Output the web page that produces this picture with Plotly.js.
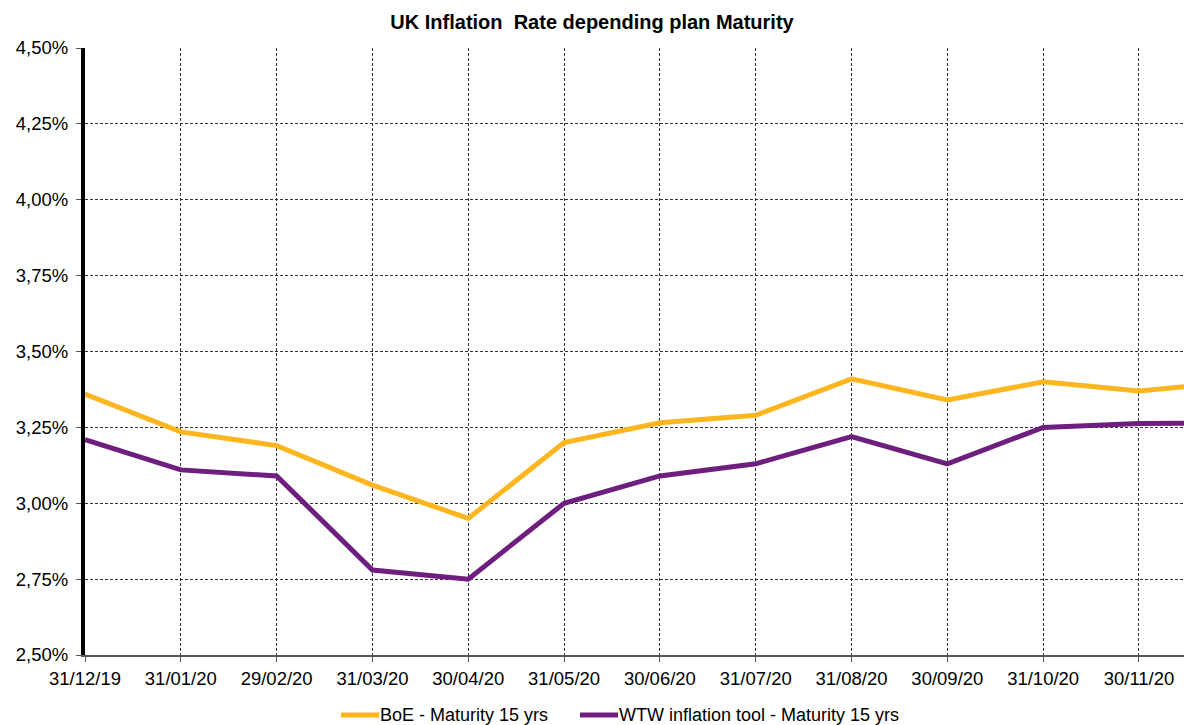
<!DOCTYPE html>
<html>
<head>
<meta charset="utf-8">
<script src="https://cdn.plot.ly/plotly-3.0.1.min.js"></script>
<style>
  html, body { margin: 0; padding: 0; background: #ffffff; }
  #chart { width: 1184px; height: 725px; }
</style>
</head>
<body>
<div id="chart"></div>
<script>
// Month-end observation dates
const dates = ["31/12/19", "31/01/20", "29/02/20", "31/03/20", "30/04/20", "31/05/20",
               "30/06/20", "31/07/20", "31/08/20", "30/09/20", "31/10/20", "30/11/20", "31/12/20"];

// Implied inflation (%), 15-year maturity
const boeValues = [3.36, 3.235, 3.19, 3.06, 2.95, 3.20, 3.265, 3.29, 3.41, 3.34, 3.40, 3.37, 3.40];
const wtwValues = [3.21, 3.11, 3.09, 2.78, 2.75, 3.00, 3.09, 3.13, 3.22, 3.13, 3.25, 3.263, 3.265];

const seriesNames = ["BoE - Maturity 15 yrs", "WTW inflation tool - Maturity 15 yrs"];
const seriesColors = ["#FDB61F", "#6E1E7E"];
const yTicks = [2.50, 2.75, 3.00, 3.25, 3.50, 3.75, 4.00, 4.25, 4.50];

const xIdx = dates.map((_, i) => i);

const traces = [
  {
    x: xIdx, y: boeValues, name: seriesNames[0], type: "scatter", mode: "lines",
    line: { color: seriesColors[0], width: 5 }
  },
  {
    x: xIdx, y: wtwValues, name: seriesNames[1], type: "scatter", mode: "lines",
    line: { color: seriesColors[1], width: 5 }
  }
];

// Legend row under the axis: a short line sample followed by the series name
const legendY = -0.099;
const legendSlots = [
  { x0: 0.2329, x1: 0.2675 },
  { x0: 0.4504, x1: 0.4850 }
];
const legendShapes = legendSlots.map((s, i) => ({
  type: "line", xref: "paper", yref: "paper",
  x0: s.x0, x1: s.x1, y0: legendY, y1: legendY,
  line: { color: seriesColors[i], width: 5 }
}));
const legendLabels = legendSlots.map((s, i) => ({
  xref: "paper", yref: "paper", x: s.x1, y: legendY,
  xanchor: "left", yanchor: "middle", showarrow: false,
  text: seriesNames[i], borderpad: 0,
  font: { size: 18, color: "#000000" }
}));

const layout = {
  width: 1184, height: 725,
  margin: { l: 85, r: 0, t: 48, b: 70, autoexpand: false },
  paper_bgcolor: "#ffffff",
  plot_bgcolor: "#ffffff",
  separators: ", ",
  font: { family: "Liberation Sans, Arial, sans-serif", color: "#000000", size: 18 },
  title: {
    text: "<b>UK Inflation  Rate depending plan Maturity</b>",
    x: 0.5, xanchor: "center", y: 0.97, yanchor: "middle",
    font: { family: "Liberation Sans, Arial, sans-serif", size: 20, color: "#000000" }
  },
  xaxis: {
    range: [0, 11.47],
    tickmode: "array",
    tickvals: xIdx.slice(0, 12),
    ticktext: dates.slice(0, 12),
    ticks: "outside", ticklen: 5, tickcolor: "#555555", tickwidth: 1,
    ticklabelstandoff: 1,
    showgrid: true, gridcolor: "#333333", gridwidth: 1, griddash: "3px,2px",
    showline: true, linecolor: "#555555", linewidth: 2,
    zeroline: false,
    tickfont: { size: 18.5 }
  },
  yaxis: {
    range: [2.5, 4.5],
    tickmode: "array",
    tickvals: yTicks,
    ticktext: yTicks.map(v => v.toFixed(2).replace(".", ",") + "%"),
    ticks: "outside", ticklen: 5, tickcolor: "#555555", tickwidth: 1,
    ticklabelstandoff: 4,
    showgrid: true, gridcolor: "#333333", gridwidth: 1, griddash: "3px,2px",
    showline: true, linecolor: "#000000", linewidth: 4,
    zeroline: false,
    tickfont: { size: 18.5 }
  },
  showlegend: false,
  shapes: legendShapes,
  annotations: legendLabels
};

Plotly.newPlot("chart", traces, layout, { displayModeBar: false, staticPlot: true });
</script>
</body>
</html>
